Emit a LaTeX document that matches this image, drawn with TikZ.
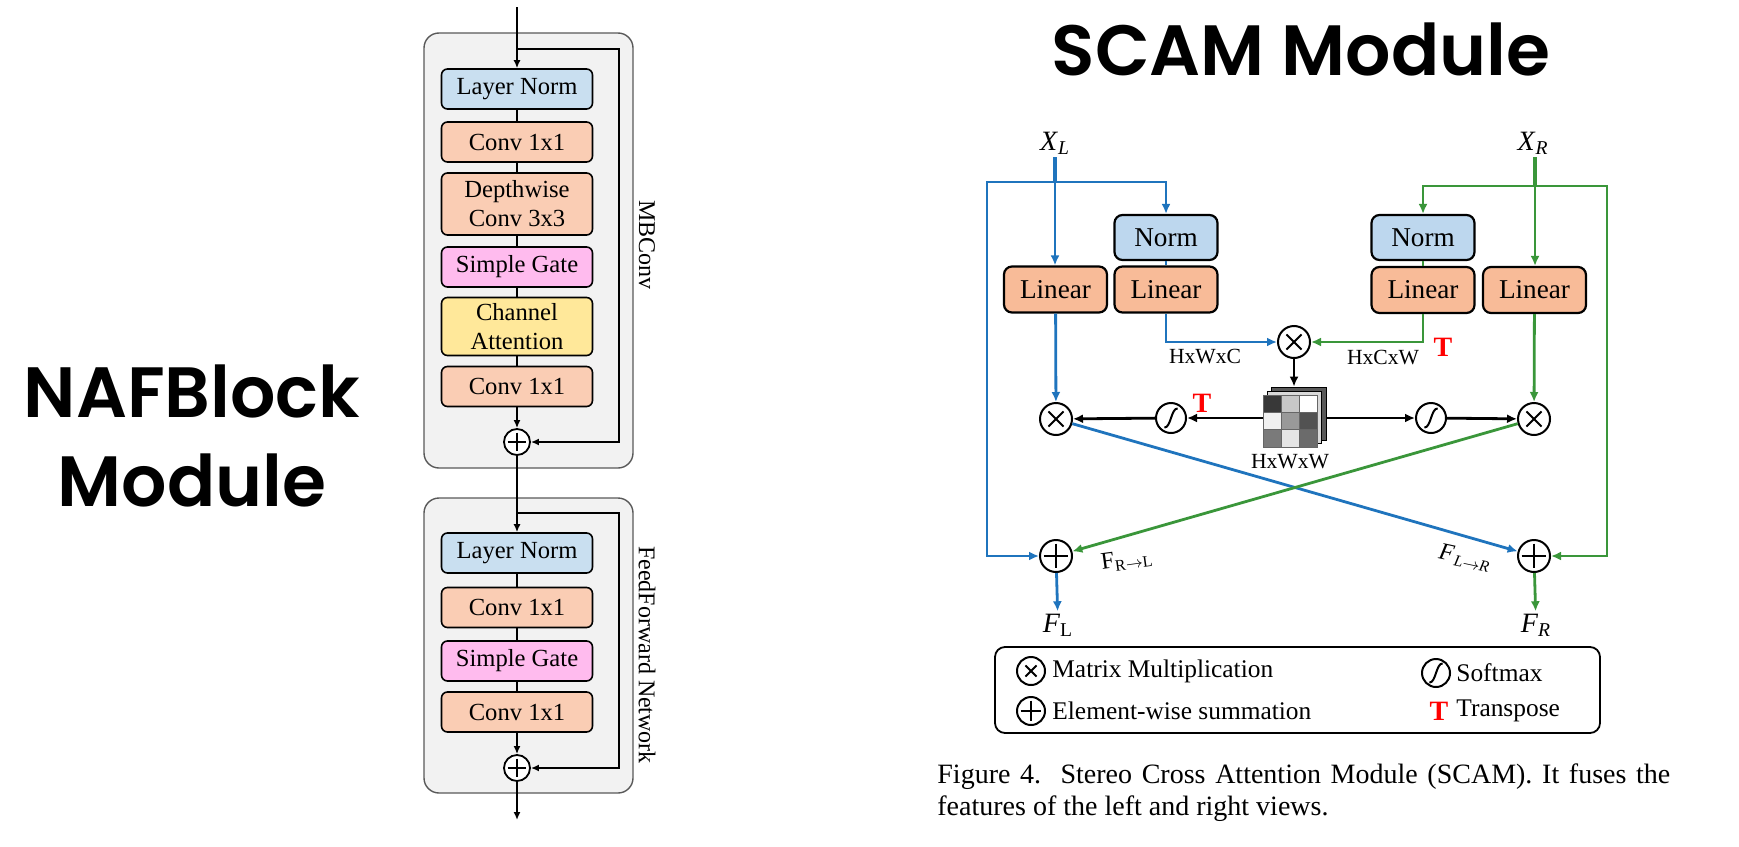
\documentclass[tikz,border=0pt]{standalone}
\usepackage{fontspec}
\setmainfont{Liberation Serif}
\newfontfamily\titlefont{Poppins}[BoldFont={Poppins SemiBold}]
\usetikzlibrary{arrows.meta}
\usetikzlibrary{positioning}
\definecolor{normblue}{HTML}{C9DFF0}
\definecolor{convpeach}{HTML}{FACDB4}
\definecolor{gatepink}{HTML}{FFBBEE}
\definecolor{attyellow}{HTML}{FFE89A}
\definecolor{panelgray}{HTML}{F2F2F2}
\definecolor{scamblue}{HTML}{BDD7EE}
\definecolor{linsalmon}{HTML}{F8BB98}
\definecolor{flowblue}{HTML}{1F74BD}
\definecolor{flowgreen}{HTML}{3A963A}
\tikzstyle{title}=[font=\titlefont\bfseries\fontsize{35.6}{44.5}\selectfont, align=center, inner sep=0]
\tikzstyle{outerbox}=[draw=black!65, fill=panelgray, rounded corners=7.5pt, line width=0.7pt]
\tikzstyle{nafbox}=[draw, rounded corners=3pt, line width=0.8pt, minimum width=75.5pt, minimum height=20pt, inner sep=0, align=center, font=\fontsize{12.3}{14.5}\selectfont]
\tikzstyle{normbox}=[nafbox, fill=normblue]
\tikzstyle{convbox}=[nafbox, fill=convpeach]
\tikzstyle{gatebox}=[nafbox, fill=gatepink]
\tikzstyle{attbox}=[nafbox, fill=attyellow]
\tikzstyle{nafline}=[line width=0.9pt, >={Latex[length=4pt,width=3.5pt]}]
\tikzstyle{sidelabel}=[rotate=-90, font=\fontsize{12}{12}\selectfont, inner sep=0]
\tikzstyle{scambox}=[draw, rounded corners=4pt, line width=1.1pt, minimum width=51.5pt, minimum height=23pt, inner sep=0, font=\fontsize{13.6}{15}\selectfont]
\tikzstyle{linbox}=[scambox, fill=linsalmon]
\tikzstyle{scamnorm}=[scambox, fill=scamblue, minimum height=22.5pt]
\tikzstyle{opcircle}=[circle, draw, line width=1pt, fill=white, inner sep=0, minimum size=16pt]
\tikzstyle{mulop}=[opcircle, path picture={
    \draw[line width=1pt, shorten <=6pt, shorten >=6pt] (path picture bounding box.south west) -- (path picture bounding box.north east);
    \draw[line width=1pt, shorten <=6pt, shorten >=6pt] (path picture bounding box.north west) -- (path picture bounding box.south east);}]
\tikzstyle{addop}=[opcircle, path picture={
    \draw[line width=1pt, shorten <=1.8pt, shorten >=1.8pt] (path picture bounding box.north) -- (path picture bounding box.south);
    \draw[line width=1pt, shorten <=1.8pt, shorten >=1.8pt] (path picture bounding box.west) -- (path picture bounding box.east);}]
\tikzstyle{softop}=[opcircle, minimum size=15pt, path picture={
    \draw[line width=1pt] ([shift={(-3.3pt,-4.8pt)}]path picture bounding box.center)
      .. controls +(3.3pt,0pt) and +(-3.3pt,0pt) .. ([shift={(3.3pt,4.8pt)}]path picture bounding box.center);}]
\tikzstyle{leftflow}=[draw=flowblue, line width=1.4pt]
\tikzstyle{rightflow}=[draw=flowgreen, line width=1.4pt]
\tikzstyle{attnline}=[draw=black, line width=1.4pt]
\tikzstyle{dimlabel}=[font=\fontsize{10.8}{11}\selectfont, inner sep=1pt]
\tikzstyle{mathlabel}=[font=\fontsize{14}{14}\selectfont, inner sep=1pt]
\tikzstyle{flowlabel}=[font=\fontsize{12}{12}\selectfont, inner sep=1pt]
\tikzstyle{transpose}=[text=red, font=\bfseries\fontsize{14}{14}\selectfont, inner sep=1pt]
\tikzstyle{keytext}=[font=\fontsize{12.7}{13}\selectfont, inner sep=0, anchor=west]
\tikzstyle{caption}=[text width=366.5pt, align=justify, inner sep=0, font=\fontsize{14}{16}\selectfont]

\begin{document}
\begin{tikzpicture}[x=0.5pt, y=-0.5pt, >={Latex[length=5pt,width=4.5pt]}]
  \useasboundingbox (0,0) rectangle (1739,846);

  % titles
  \node[title] (naf_title) at (192,436) {NAFBlock\\Module};
  \node[title] (scam_title) at (1301,49) {SCAM Module};

  % NAFBlock
  \node[outerbox, minimum width=104.5pt, minimum height=217.5pt] (mbconv) at (528.5,250.5) {};
  \node[outerbox, minimum width=104.5pt, minimum height=147.5pt] (ffn) at (528.5,645.5) {};
  \node[sidelabel] (mbconv_label) at (647,245) {MBConv};
  \node[sidelabel] (ffn_label) at (647,655) {FeedForward Network};

  \node[normbox] (ln_a) at (517,89) {Layer Norm};
  \node[convbox] (conv_a) at (517,142) {Conv 1x1};
  \node[convbox, minimum height=31pt] (dwconv) at (517,204) {Depthwise\\Conv 3x3};
  \node[gatebox] (gate_a) at (517,267) {Simple Gate};
  \node[attbox, minimum height=29pt] (chatt) at (517,326.5) {Channel\\Attention};
  \node[convbox] (conv_b) at (517,386.5) {Conv 1x1};
  \node[addop, minimum size=13pt, line width=0.9pt] (add_a) at (517,442) {};

  \node[normbox] (ln_b) at (517,553) {Layer Norm};
  \node[convbox] (conv_c) at (517,607.5) {Conv 1x1};
  \node[gatebox] (gate_b) at (517,661) {Simple Gate};
  \node[convbox] (conv_d) at (517,712) {Conv 1x1};
  \node[addop, minimum size=13pt, line width=0.9pt] (add_b) at (517,768) {};

  \coordinate (naf_in) at (517,7);
  \coordinate (skip_a) at (517,49);
  \coordinate (skip_a_r) at (619,49);
  \coordinate (skip_b) at (517,513);
  \coordinate (skip_b_r) at (619,513);
  \coordinate (naf_out) at (517,820);

  \draw[nafline, line width=1.4pt] (naf_in) -- (skip_a);
  \draw[nafline, ->] (skip_a) -- (ln_a);
  \draw[nafline] (ln_a) -- (conv_a);
  \draw[nafline] (conv_a) -- (dwconv);
  \draw[nafline] (dwconv) -- (gate_a);
  \draw[nafline] (gate_a) -- (chatt);
  \draw[nafline] (chatt) -- (conv_b);
  \draw[nafline, ->] (conv_b) -- (add_a);
  \draw[nafline, ->] (skip_a) -- (skip_a_r) |- (add_a);
  \draw[nafline, line width=1.4pt] (add_a) -- (skip_b);
  \draw[nafline, ->] (skip_b) -- (ln_b);
  \draw[nafline] (ln_b) -- (conv_c);
  \draw[nafline] (conv_c) -- (gate_b);
  \draw[nafline] (gate_b) -- (conv_d);
  \draw[nafline, ->] (conv_d) -- (add_b);
  \draw[nafline, ->] (skip_b) -- (skip_b_r) |- (add_b);
  \draw[nafline, ->] (add_b) -- (naf_out);

  % SCAM
  \node[mathlabel] (x_l) at (1055,143) {\textit{X}\textsubscript{\textit{L}}};
  \node[mathlabel] (x_r) at (1533,143) {\textit{X}\textsubscript{\textit{R}}};

  \node[linbox] (lin_l) at (1055.5,289.5) {Linear};
  \node[scamnorm] (norm_l) at (1166,237.5) {Norm};
  \node[linbox] (lin_lq) at (1166,289.5) {Linear};
  \node[scamnorm] (norm_r) at (1423,237.5) {Norm};
  \node[linbox] (lin_rq) at (1423,290) {Linear};
  \node[linbox] (lin_r) at (1534.5,290) {Linear};

  \node[mulop] (mul_t) at (1294,342) {};
  \node[inner sep=0, minimum width=31.5pt, minimum height=30pt] (attn) at (1294.5,417) {};
  \node[softop] (soft_l) at (1171,418) {};
  \node[softop] (soft_r) at (1431,418) {};
  \node[mulop] (mul_l) at (1056,419) {};
  \node[mulop] (mul_r) at (1534,419) {};
  \node[addop] (add_l) at (1056,556) {};
  \node[addop] (add_r) at (1534,556) {};
  \node[mathlabel] (f_l) at (1058,625) {\textit{F}\textsubscript{L}};
  \node[mathlabel] (f_r) at (1536,625) {\textit{F}\textsubscript{\textit{R}}};

  % attention map
  \draw[line width=0.4pt, fill=black!65] (1271,387) rectangle (1326,440);
  \draw[line width=0.4pt, fill=black!15] (1267,391) rectangle (1321,443);
  \foreach \shade [count=\k from 0] in {78,22,0,6,40,68,52,10,58} {
    \pgfmathtruncatemacro{\col}{mod(\k,3)}
    \pgfmathtruncatemacro{\row}{\k/3}
    \draw[draw=black!60, line width=0.3pt, fill=black!\shade]
      (1263+18*\col,395+17.33*\row) rectangle ++(18,17.33);
  }

  \coordinate (xl_stem) at (1055,157);
  \coordinate (xl_fork) at (1055,182);
  \coordinate (xl_bus) at (987,182);
  \coordinate (xr_stem) at (1535,157);
  \coordinate (xr_fork) at (1535,186);
  \coordinate (xr_bus) at (1607,186);

  \draw[leftflow, line width=2pt] (xl_stem) -- (xl_fork);
  \draw[leftflow, ->] (xl_fork) -- (xl_fork |- lin_l.north);
  \draw[leftflow, ->] (xl_fork) -| (norm_l.north);
  \draw[leftflow, ->] (xl_fork) -- (xl_bus) |- (add_l);
  \draw[leftflow] (norm_l) -- (lin_lq);
  \draw[leftflow, ->] (lin_lq.south) |- (mul_t);
  \draw[leftflow, ->] (lin_l) -- (mul_l);
  \draw[leftflow, ->] (mul_l) -- (add_r);
  \draw[leftflow, ->] (add_l) -- (f_l);

  \draw[rightflow, line width=2pt] (xr_stem) -- (xr_fork);
  \draw[rightflow, ->] (xr_fork) -- (xr_fork |- lin_r.north);
  \draw[rightflow, ->] (xr_fork) -| (norm_r.north);
  \draw[rightflow, ->] (xr_fork) -- (xr_bus) |- (add_r);
  \draw[rightflow] (norm_r) -- (lin_rq);
  \draw[rightflow, ->] (lin_rq.south) |- (mul_t);
  \draw[rightflow, ->] (lin_r) -- (mul_r);
  \draw[rightflow, ->] (mul_r) -- (add_l);
  \draw[rightflow, ->] (add_r) -- (f_r);

  \draw[attnline, ->] (mul_t) -- (mul_t |- attn.north);
  \draw[attnline, ->] (attn.west |- soft_l) -- (soft_l);
  \draw[attnline, ->] (soft_l) -- (mul_l);
  \draw[attnline, ->] (attn.east |- soft_r) -- (soft_r);
  \draw[attnline, ->] (soft_r) -- (mul_r);

  \node[dimlabel] (dim_c) at (1205,357) {HxWxC};
  \node[dimlabel] (dim_w) at (1383,358) {HxCxW};
  \node[dimlabel] (dim_att) at (1290,462) {HxWxW};
  \node[transpose] (t_top) at (1443,347) {T};
  \node[transpose] (t_mid) at (1202,403) {T};
  \node[flowlabel, rotate=8] (f_rl) at (1127,560) {F\textsubscript{R$\rightarrow$L}};
  \node[flowlabel, rotate=-12] (f_lr) at (1465,558) {\textit{F}\kern0.8pt\textsubscript{\textit{L}$\rightarrow$\textit{R}}};

  % legend
  \node[draw, rounded corners=5pt, line width=0.9pt, minimum width=302.5pt, minimum height=43pt] (legend) at (1297.5,690) {};
  \node[mulop, minimum size=14pt] (key_mul) at (1031,671) {};
  \node[keytext, right=3pt of key_mul] (key_mul_text) {Matrix Multiplication};
  \node[addop, minimum size=14pt] (key_add) at (1031,711) {};
  \node[keytext, right=3pt of key_add] (key_add_text) {Element-wise summation};
  \node[softop, minimum size=14pt] (key_soft) at (1436,673) {};
  \node[keytext, right=2.5pt of key_soft] (key_soft_text) {Softmax};
  \node[transpose] (key_t) at (1439,711) {T};
  \node[keytext] (key_t_text) at (key_soft_text.west |- key_t) {Transpose};

  % caption
  \node[caption, anchor=north west] (caption) at (937,763) {Figure 4.\ \ Stereo Cross Attention Module (SCAM). It fuses the\linebreak features of the left and right views.};
\end{tikzpicture}
\end{document}
